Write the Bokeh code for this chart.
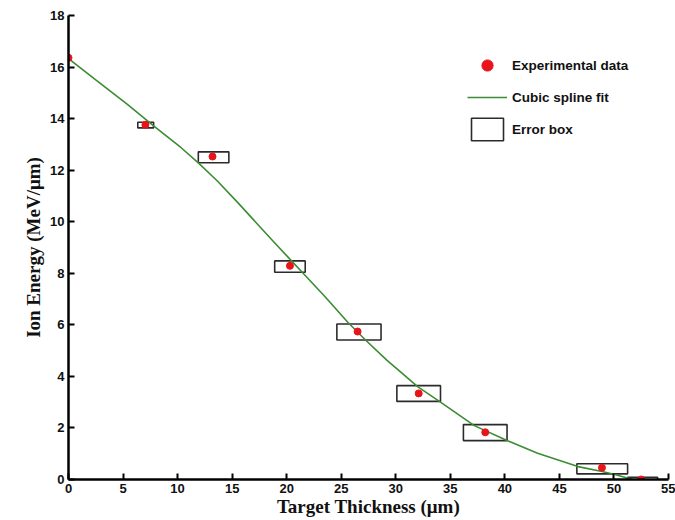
from bokeh.plotting import figure
from bokeh.models import Range1d, Legend, LegendItem, FixedTicker
from bokeh.embed import file_html
from bokeh.resources import INLINE

# experimental data
x_exp = [0.0, 7.05, 13.2, 20.3, 26.5, 32.1, 38.2, 48.9, 52.5]
y_exp = [16.36, 13.76, 12.53, 8.29, 5.74, 3.34, 1.83, 0.46, 0.0]

# error boxes
box_left = [6.35, 11.9, 18.9, 24.6, 30.1, 36.2, 46.6, 51.25]
box_right = [7.8, 14.7, 21.7, 28.65, 34.1, 40.2, 51.25, 54.0]
box_bottom = [13.64, 12.29, 8.04, 5.41, 3.03, 1.51, 0.22, -0.03]
box_top = [13.86, 12.71, 8.48, 6.03, 3.64, 2.13, 0.61, 0.09]

# cubic spline fit
x_fit = [0, 2.5, 5.4, 7.8, 10.3, 11.9, 13.6, 15.5, 18.7, 20.4, 21.4, 23.5, 25.6, 27.2,
         29.2, 30.3, 32.0, 34.0, 37.2, 40.2, 43.0, 46.7, 48.8, 50.0, 51.7]
y_fit = [16.33, 15.5, 14.55, 13.72, 12.88, 12.28, 11.6, 10.75, 9.27, 8.5, 8.05, 7.1, 6.1, 5.42,
         4.62, 4.22, 3.6, 3.03, 2.09, 1.51, 1.02, 0.5, 0.32, 0.2, 0.0]

x_ticks = [0, 5, 10, 15, 20, 25, 30, 35, 40, 45, 50, 55]
y_ticks = [0, 2, 4, 6, 8, 10, 12, 14, 16, 18]

x_label = "Target Thickness (μm)"
y_label = "Ion Energy (MeV/μm)"

p = figure(width=675, height=520, output_backend="svg", toolbar_location=None,
           x_range=Range1d(0, 55), y_range=Range1d(0, 18),
           min_border_left=68, min_border_right=7, min_border_top=15, min_border_bottom=41)
p.outline_line_color = None
p.xgrid.visible = False
p.ygrid.visible = False
p.background_fill_color = "white"
p.border_fill_color = "white"

for ax in (p.xaxis[0], p.yaxis[0]):
    ax.axis_line_width = 2.5
    ax.axis_line_color = "black"
    ax.major_tick_in = 6
    ax.major_tick_out = 0
    ax.major_tick_line_width = 2
    ax.minor_tick_line_color = None
    ax.major_label_text_font = "Liberation Sans"
    ax.major_label_text_font_style = "bold"
    ax.major_label_text_font_size = "13px"
    ax.major_label_text_color = "#111111"
    ax.axis_label_text_font = "Liberation Serif"
    ax.axis_label_text_font_style = "bold"
    ax.axis_label_text_font_size = "19px"
    ax.axis_label_text_color = "#111111"
p.xaxis[0].ticker = FixedTicker(ticks=x_ticks)
p.yaxis[0].ticker = FixedTicker(ticks=y_ticks)
p.xaxis[0].major_label_standoff = 4
p.yaxis[0].major_label_standoff = 4
p.xaxis[0].axis_label = x_label
p.yaxis[0].axis_label = y_label
p.xaxis[0].axis_label_standoff = 0
p.yaxis[0].axis_label_standoff = 3

boxes = p.quad(left=box_left, right=box_right, bottom=box_bottom, top=box_top,
               fill_color=None, line_color="#2b2b2b", line_width=1.6)
fit = p.line(x_fit, y_fit, line_color="#3c8c32", line_width=1.6)
dots = p.scatter(x_exp, y_exp, size=7, fill_color="#e8131b", line_color="#e8131b")

legend = Legend(items=[
    LegendItem(label="Experimental data", renderers=[dots]),
    LegendItem(label="Cubic spline fit", renderers=[fit]),
    LegendItem(label="Error box", renderers=[boxes]),
], location=(399, 336), glyph_width=40, glyph_height=28, spacing=4, padding=0, margin=0,
    label_standoff=5, label_text_font="Liberation Sans", label_text_font_style="bold",
    label_text_font_size="13.5px", label_text_color="#111111",
    border_line_color=None, background_fill_alpha=0)
p.add_layout(legend, "center")

open("out.html", "w").write(file_html(p, INLINE))
